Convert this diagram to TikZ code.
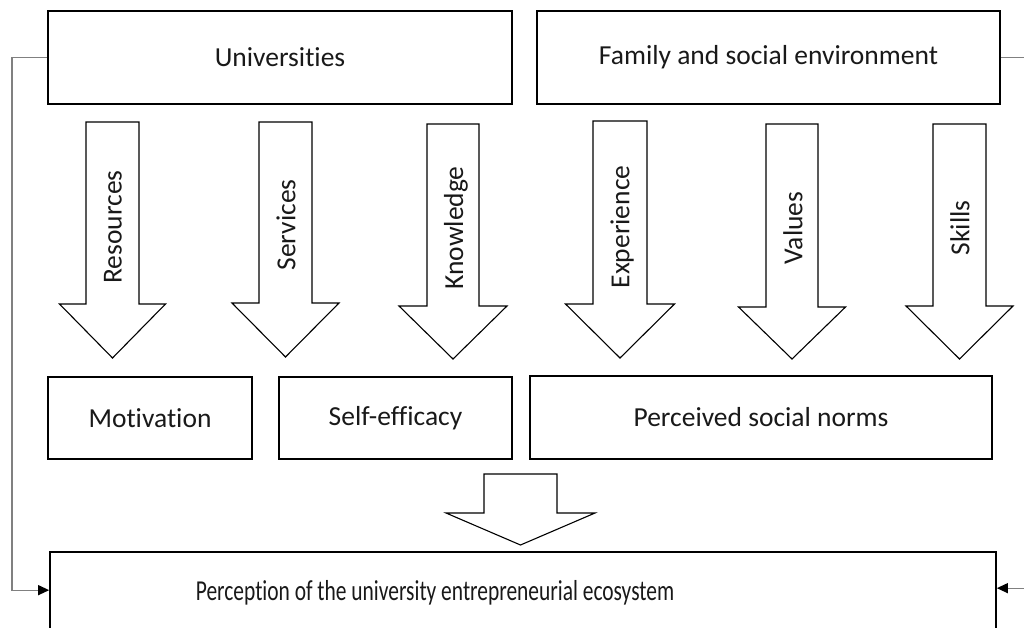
\documentclass[tikz,border=0pt]{standalone}
\usepackage{fontspec}
\setmainfont{Carlito}[Ligatures={NoCommon,NoRare}]
\usetikzlibrary{arrows.meta,calc}
\tikzset{
  box/.style={draw=black, line width=1.7pt, fill=white, inner sep=0pt,
    font=\fontsize{27.5}{33}\selectfont, text=black!90},
  barrow/.style={draw=black, line width=1.1pt, fill=white, line join=miter},
  conn/.style={draw=black!50, line width=1.2pt,
    -{Triangle[length=11pt,width=10pt,color=black]}},
  lbl/.style={font=\fontsize{27.5}{33}\selectfont, text=black!90, inner sep=0pt},
}
% #1 centre x, #2 top, #3 shaft bottom, #4 tip, #5 half shaft, #6 half head
\newcommand\blkarrow[6]{%
  \draw[barrow] ({#1-#5},#2) -- ({#1+#5},#2) -- ({#1+#5},#3) -- ({#1+#6},#3)
    -- (#1,#4) -- ({#1-#6},#3) -- ({#1-#5},#3) -- cycle;}
\begin{document}
\begin{tikzpicture}[x=1pt,y=-1pt]
\useasboundingbox (0,0) rectangle (1024,628);
\clip (0,0) rectangle (1024,628);
\fill[white] (0,0) rectangle (1024,628);

% top boxes
\node[box, minimum width=464pt, minimum height=93pt] (uni) at (280,57.2) {Universities};
\node[box, minimum width=463pt, minimum height=93pt] (fam) at (768.5,57.2) {Family and social environment};

% block arrows
\blkarrow{112.5}{122}{304}{358}{26.5}{53}
\blkarrow{285.5}{122}{303}{357}{26.5}{53.5}
\blkarrow{453}{124}{306}{359}{26}{54}
\blkarrow{620}{121}{304}{358}{27}{54.5}
\blkarrow{792}{124}{307}{359}{26}{53.5}
\blkarrow{959.5}{124}{306}{359}{26.5}{53.5}

\node[lbl, rotate=90] (lres) at (113,227) {Resources};
\node[lbl, rotate=90] (lser) at (286,225) {Services};
\node[lbl, rotate=90] (lkno) at (456,228) {Knowledge};
\node[lbl, rotate=90] (lexp) at (622,227) {Experience};
\node[lbl, rotate=90] (lval) at (793,228) {Values};
\node[lbl, rotate=90] (lski) at (960,228) {Skills};

% middle boxes
\node[box, minimum width=204pt, minimum height=82pt] (mot) at (150,418) {Motivation};
\node[box, minimum width=233pt, minimum height=82pt] (self) at (395.5,418) {Self-efficacy};
\node[box, minimum width=462pt, minimum height=83pt] (norms) at (761,417.5) {Perceived social norms};

% bottom arrow
\blkarrow{520.5}{474}{513}{545}{36.5}{74.5}

% bottom box
\node[box, minimum width=946pt, minimum height=88pt] (eco) at (523,596) {};
\node[lbl] (ecotext) at (435,593) {\scalebox{0.78}[1.05]{Perception of the university entrepreneurial ecosystem}};

% feedback connectors
\draw[conn] (uni.west) -- (12,57.2) |- ([yshift=-39pt]eco.north west);
\draw[conn] (fam.east) -- (1040,57.2) |- ([yshift=-37pt]eco.north east);
\end{tikzpicture}
\end{document}
